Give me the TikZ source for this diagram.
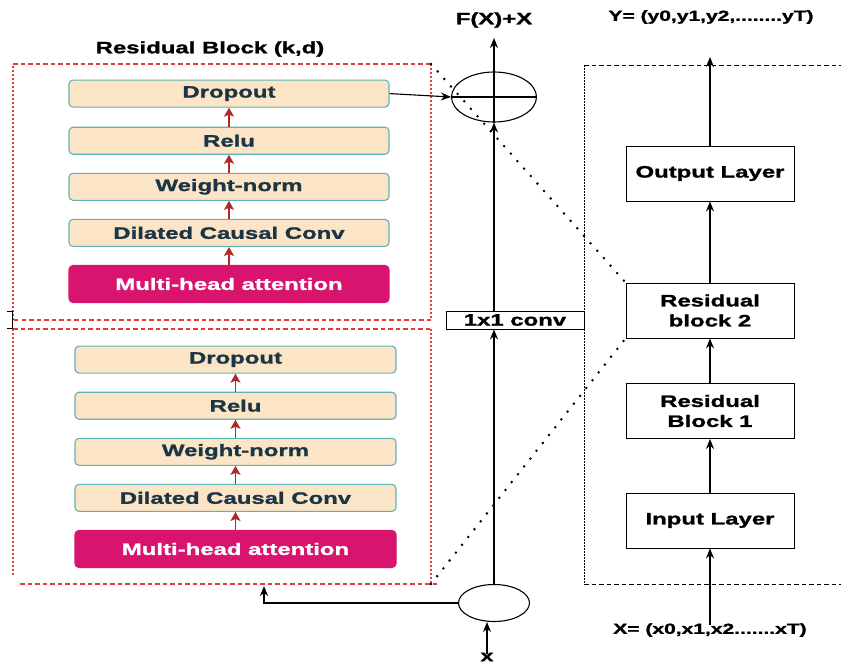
\documentclass[tikz,border=0pt]{standalone}
\usepackage{fontspec}
\setmainfont{Liberation Sans}
\newfontfamily\lblfont[FakeStretch=1.45,FakeBold=1.4]{Liberation Sans}
\usetikzlibrary{shapes.geometric,arrows.meta,positioning}

\definecolor{boxfill}{HTML}{FBE5C6}
\definecolor{boxline}{HTML}{5FB3B3}
\definecolor{boxtext}{HTML}{1C3545}
\definecolor{attn}{HTML}{D8146E}
\definecolor{flow}{HTML}{B0282A}
\definecolor{frame}{HTML}{E03C3C}

\begin{document}
\begin{tikzpicture}[x=1pt,y=-1pt,>={Stealth[length=10pt,width=8pt]},line width=1.1pt,
	node distance=18pt,
	layer/.style={rectangle,rounded corners=4pt,draw=boxline,fill=boxfill,line width=1.1pt,
		minimum width=320pt,minimum height=27pt,inner sep=0pt,text=boxtext,
		font=\lblfont\bfseries\fontsize{16.5}{20}\selectfont},
	attn node/.style={layer,draw=attn,fill=attn,text=white,minimum height=37pt},
	main node/.style={rectangle,draw,line width=0.9pt,minimum width=168pt,minimum height=55pt,
		inner sep=0pt,align=center,font=\lblfont\bfseries\fontsize{16.5}{20}\selectfont},
	lbl/.style={inner sep=0pt,font=\lblfont\bfseries\fontsize{16.5}{20}\selectfont},
	small lbl/.style={inner sep=0pt,font=\lblfont\bfseries\fontsize{14.5}{16}\selectfont},
	red arrow/.style={->,>={Stealth[length=9pt,width=10pt,inset=2pt]},draw=flow,fill=flow,line width=1.4pt},
	frame dash/.style={draw=frame,line width=1.1pt,dash pattern=on 4.5pt off 3pt},
	frame dot/.style={draw=frame,line width=1.1pt,dash pattern=on 2pt off 2pt},
	link dots/.style={line width=2.8pt,line cap=round,dash pattern=on 0pt off 10pt}]

	\useasboundingbox (0,0) rectangle (841,664);

	% upper residual block
	\node[lbl] (title) at (210,49) {Residual Block (k,d)};
	\node[attn node] (mh1) at (229,284) {Multi-head attention};
	\node[layer] (dcc1) [above=of mh1] {Dilated Causal Conv};
	\node[layer] (wn1) [above=of dcc1] {Weight-norm};
	\node[layer] (relu1) [above=of wn1] {Relu};
	\node[layer] (drop1) [above=19pt of relu1] {Dropout};

	% lower residual block
	\node[attn node,minimum width=321pt] (mh2) at (235.5,549) {Multi-head attention};
	\node[layer,minimum width=321pt] (dcc2) [above=of mh2] {Dilated Causal Conv};
	\node[layer,minimum width=321pt] (wn2) [above=of dcc2] {Weight-norm};
	\node[layer,minimum width=321pt] (relu2) [above=of wn2] {Relu};
	\node[layer,minimum width=321pt] (drop2) [above=of relu2] {Dropout};

	\foreach \a/\b in {mh1/dcc1,dcc1/wn1,wn1/relu1,relu1/drop1,mh2/dcc2,dcc2/wn2,wn2/relu2,relu2/drop2}
		\draw[red arrow] (\a.north) -- (\b.south);

	% frames
	\draw[frame dash] (13,64) -- (431,64);
	\draw[frame dot] (431,64) -- (431,320);
	\draw[frame dash] (431,320) -- (13,320);
	\draw[frame dot] (13,320) -- (13,64);
	\draw[frame dash] (13,329) -- (431,329);
	\draw[frame dot] (431,329) -- (431,584);
	\draw[frame dash] (437,584) -- (20,584);
	\draw[frame dot] (13,575) -- (13,329);
	\draw[line width=0.8pt] (7,311) -- (12,311) -- (12,328) -- (7,328);

	\draw[line width=0.9pt,dash pattern=on 1.5pt off 1.5pt] (584,65) -- (584,584);
	\draw[line width=0.9pt,dash pattern=on 4.5pt off 3pt] (584,65) -- (841,65);
	\draw[line width=0.9pt,dash pattern=on 4.5pt off 3pt] (584,584) -- (841,584);

	% residual connection
	\node[ellipse,draw,minimum width=85pt,minimum height=50pt] (sum) at (494,97) {};
	\draw (sum.west) -- (sum.east) (sum.north) -- (sum.south);
	\node[ellipse,draw,minimum width=71pt,minimum height=37pt] (split) at (494,603) {};
	\node[rectangle,draw,line width=0.9pt,minimum width=138pt,minimum height=18pt,inner sep=0pt,
		font=\lblfont\bfseries\fontsize{16.5}{20}\selectfont] (conv) at (515,320) {1x1 conv};
	\node[lbl] (fx) at (494,20) {F(X)+X};
	\node[lbl,font=\lblfont\bfseries\fontsize{16}{18}\selectfont] (xin) at (487,657) {x};
	\coordinate (fxtip) at (494,38);
	\coordinate (skip) at (264,586);

	\draw[->] (drop1.east) -- (sum.west);
	\draw[->] (split.north) -- (split.north |- conv.south);
	\draw[->] (sum.south |- conv.north) -- (sum.south);
	\draw[->] (sum.north) -- (fxtip);
	\draw[->] ([yshift=-2pt]xin.north) -- (xin.north |- split.south);
	\draw[->] (split.west) -| (skip);

	% network stack
	\node[main node] (inl) at (710,520.5) {Input Layer};
	\node[main node] (rb1) at (710,411) {Residual\\Block 1};
	\node[main node] (rb2) at (710,310.5) {Residual\\block 2};
	\node[main node] (outl) at (710,173.5) {Output Layer};
	\node[small lbl] (xs) at (710,630) {X= (x0,x1,x2.......xT)};
	\node[small lbl] (ys) at (711,17) {Y= (y0,y1,y2,........yT)};
	\coordinate (ytip) at (710,57);

	\draw[->] ([yshift=-2pt]xs.north) -- (inl.south);
	\draw[->] (inl.north) -- (rb1.south);
	\draw[->] (rb1.north) -- (rb2.south);
	\draw[->] (rb2.north) -- (outl.south);
	\draw[->] (outl.north) -- (ytip);

	% zoom lines
	\draw[link dots] (431,64) -- (rb2.north west);
	\draw[link dots] (431,584) -- (rb2.south west);
\end{tikzpicture}
\end{document}
